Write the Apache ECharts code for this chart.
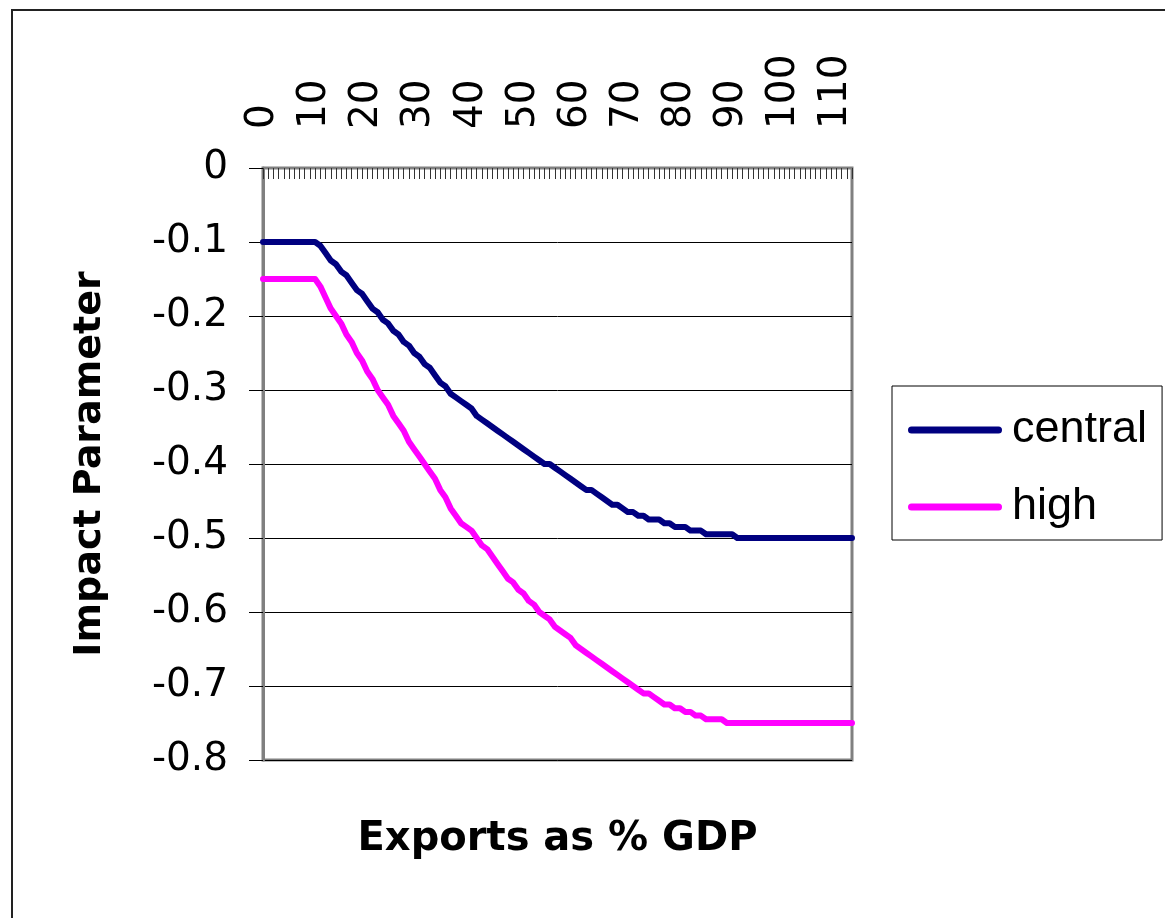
<!DOCTYPE html>
<html>
<head>
<meta charset="utf-8">
<script src="https://cdn.jsdelivr.net/npm/echarts@6/dist/echarts.min.js"></script>
<style>
html,body{margin:0;padding:0;background:#fff;}
#chart{width:1165px;height:918px;}
</style>
</head>
<body>
<div id="chart"></div>
<script>
// Exports as % GDP (category axis, one step per unit)
const categories = [
  0,1,2,3,4,5,6,7,8,9,10,11,12,13,14,15,16,17,18,19,
  20,21,22,23,24,25,26,27,28,29,30,31,32,33,34,35,36,37,38,39,
  40,41,42,43,44,45,46,47,48,49,50,51,52,53,54,55,56,57,58,59,
  60,61,62,63,64,65,66,67,68,69,70,71,72,73,74,75,76,77,78,79,
  80,81,82,83,84,85,86,87,88,89,90,91,92,93,94,95,96,97,98,99,
  100,101,102,103,104,105,106,107,108,109,110,111,112,113
];

const centralValues = [
  -0.1,-0.1,-0.1,-0.1,-0.1,-0.1,-0.1,-0.1,-0.1,-0.1,-0.1,
  -0.105,-0.115,-0.125,-0.13,-0.14,-0.145,-0.155,-0.165,-0.17,-0.18,
  -0.19,-0.195,-0.205,-0.21,-0.22,-0.225,-0.235,-0.24,-0.25,-0.255,
  -0.265,-0.27,-0.28,-0.29,-0.295,-0.305,-0.31,-0.315,-0.32,-0.325,
  -0.335,-0.34,-0.345,-0.35,-0.355,-0.36,-0.365,-0.37,-0.375,-0.38,
  -0.385,-0.39,-0.395,-0.4,-0.4,-0.405,-0.41,-0.415,-0.42,-0.425,
  -0.43,-0.435,-0.435,-0.44,-0.445,-0.45,-0.455,-0.455,-0.46,-0.465,
  -0.465,-0.47,-0.47,-0.475,-0.475,-0.475,-0.48,-0.48,-0.485,-0.485,
  -0.485,-0.49,-0.49,-0.49,-0.495,-0.495,-0.495,-0.495,-0.495,-0.495,
  -0.5,-0.5,-0.5,-0.5,-0.5,-0.5,-0.5,-0.5,-0.5,-0.5,
  -0.5,-0.5,-0.5,-0.5,-0.5,-0.5,-0.5,-0.5,-0.5,-0.5,
  -0.5,-0.5,-0.5
];

const highValues = [
  -0.15,-0.15,-0.15,-0.15,-0.15,-0.15,-0.15,-0.15,-0.15,-0.15,-0.15,
  -0.16,-0.175,-0.19,-0.2,-0.21,-0.225,-0.235,-0.25,-0.26,-0.275,
  -0.285,-0.3,-0.31,-0.32,-0.335,-0.345,-0.355,-0.37,-0.38,-0.39,
  -0.4,-0.41,-0.42,-0.435,-0.445,-0.46,-0.47,-0.48,-0.485,-0.49,
  -0.5,-0.51,-0.515,-0.525,-0.535,-0.545,-0.555,-0.56,-0.57,-0.575,
  -0.585,-0.59,-0.6,-0.605,-0.61,-0.62,-0.625,-0.63,-0.635,-0.645,
  -0.65,-0.655,-0.66,-0.665,-0.67,-0.675,-0.68,-0.685,-0.69,-0.695,
  -0.7,-0.705,-0.71,-0.71,-0.715,-0.72,-0.725,-0.725,-0.73,-0.73,
  -0.735,-0.735,-0.74,-0.74,-0.745,-0.745,-0.745,-0.745,-0.75,-0.75,
  -0.75,-0.75,-0.75,-0.75,-0.75,-0.75,-0.75,-0.75,-0.75,-0.75,
  -0.75,-0.75,-0.75,-0.75,-0.75,-0.75,-0.75,-0.75,-0.75,-0.75,
  -0.75,-0.75,-0.75
];

const seriesNames = ['central', 'high'];
const seriesColors = ['#000080', '#FF00FF'];
const yTitle = 'Impact Parameter';
const xTitle = 'Exports as % GDP';

const chart = echarts.init(document.getElementById('chart'), null, {renderer: 'canvas'});

const option = {
  backgroundColor: '#ffffff',
  animation: false,
  grid: {
    left: 263, top: 168, width: 589, height: 592,
    show: true, borderColor: '#808080', borderWidth: 3,
    backgroundColor: 'transparent', containLabel: false
  },
  xAxis: {
    type: 'category',
    position: 'top',
    boundaryGap: false,
    data: categories,
    axisLine: {show: true, lineStyle: {color: '#808080', width: 2}},
    axisTick: {show: true, inside: true, length: 11, interval: 0, lineStyle: {color: '#333', width: 1}},
    axisLabel: {
      interval: 9, rotate: 90, margin: 39,
      fontFamily: 'DejaVu Sans', fontSize: 39, color: '#000'
    },
    splitLine: {show: false}
  },
  yAxis: {
    type: 'value',
    min: -0.8, max: 0, interval: 0.1,
    axisLine: {show: true, lineStyle: {color: '#808080', width: 3}},
    axisTick: {show: true, inside: false, length: 14, lineStyle: {color: '#000', width: 1}},
    axisLabel: {
      margin: 35, fontFamily: 'DejaVu Sans', fontSize: 39, color: '#000',
      formatter: function (v) { return String(Math.round(v * 10) / 10); }
    },
    splitLine: {show: true, lineStyle: {color: '#000', width: 1}}
  },
  legend: {
    data: seriesNames,
    orient: 'vertical',
    left: 892, top: 386,
    itemWidth: 94, itemHeight: 7, itemGap: 31,
    padding: [21, 15, 10, 16],
    borderColor: '#000', borderWidth: 1,
    icon: 'path://M3.5,0 L90.5,0 A3.5,3.5 0 0 1 90.5,7 L3.5,7 A3.5,3.5 0 0 1 3.5,0 Z',
    textStyle: {
      fontFamily: 'Liberation Sans', fontSize: 45, lineHeight: 46, color: '#000',
      padding: [0, 0, 0, 5]
    }
  },
  graphic: [
    {
      type: 'rect', silent: true, z: 100,
      shape: {x: 12, y: 10, width: 1400, height: 1200},
      style: {fill: 'none', stroke: '#222', lineWidth: 2}
    },
    {
      type: 'text', silent: true,
      x: 557.5, y: 840,
      style: {
        text: xTitle, fill: '#000',
        font: 'bold 40px "DejaVu Sans"',
        textAlign: 'center', textVerticalAlign: 'middle'
      }
    },
    {
      type: 'text', silent: true,
      x: 90, y: 464, rotation: Math.PI / 2,
      style: {
        text: yTitle, fill: '#000',
        font: 'bold 38px "DejaVu Sans"',
        textAlign: 'center', textVerticalAlign: 'middle'
      }
    }
  ],
  series: [
    {
      name: seriesNames[0], type: 'line', data: centralValues,
      symbol: 'none', smooth: false,
      itemStyle: {color: seriesColors[0]},
      lineStyle: {color: seriesColors[0], width: 6, cap: 'round', join: 'round'}
    },
    {
      name: seriesNames[1], type: 'line', data: highValues,
      symbol: 'none', smooth: false,
      itemStyle: {color: seriesColors[1]},
      lineStyle: {color: seriesColors[1], width: 6, cap: 'round', join: 'round'}
    }
  ]
};

chart.setOption(option);
</script>
</body>
</html>
